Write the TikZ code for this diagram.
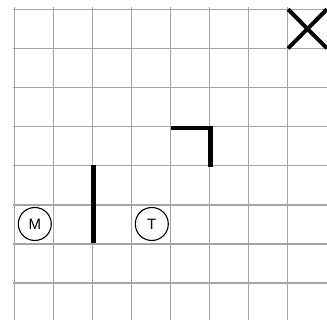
\documentclass[tikz,border=0pt]{standalone}
\usepackage{fontspec}
\setmainfont{Liberation Sans}
\begin{document}
\begin{tikzpicture}[x=1pt,y=-1pt,
  gridline/.style={draw={rgb,255:red,165;green,165;blue,165},line width=1.5pt},
  wall/.style={draw=black,line width=4.5pt},
  crossline/.style={draw=black,line width=4pt},
  token/.style={circle,draw=black,line width=1.1pt,minimum size=33pt,inner sep=0pt,font=\fontsize{15}{15}\selectfont}]
\useasboundingbox (0,0) rectangle (327,320);
\foreach \k in {0,...,7}{
  \draw[gridline] ({14.7+39*\k},7) -- ({14.7+39*\k},320);
  \draw[gridline] (13,{9.3+39.1*\k}) -- (327,{9.3+39.1*\k});
}
% X mark
\coordinate (xa) at (288,9.3);
\coordinate (xb) at (327,48.4);
\coordinate (xc) at (288,48.4);
\coordinate (xd) at (327,9.3);
\draw[crossline] (xa) -- (xb);
\draw[crossline] (xc) -- (xd);
% bracket
\coordinate (ba) at (171,128);
\coordinate (bb) at (210.5,128);
\coordinate (bc) at (210.5,167);
\draw[wall] (ba) -- (bb) -- (bc);
% vertical wall
\coordinate (wa) at (93.3,165);
\coordinate (wb) at (93.3,243.5);
\draw[wall] (wa) -- (wb);
% tokens
\node[token] (M) at (34.8,224) {M};
\node[token] (T) at (151.8,224) {T};
\end{tikzpicture}
\end{document}
